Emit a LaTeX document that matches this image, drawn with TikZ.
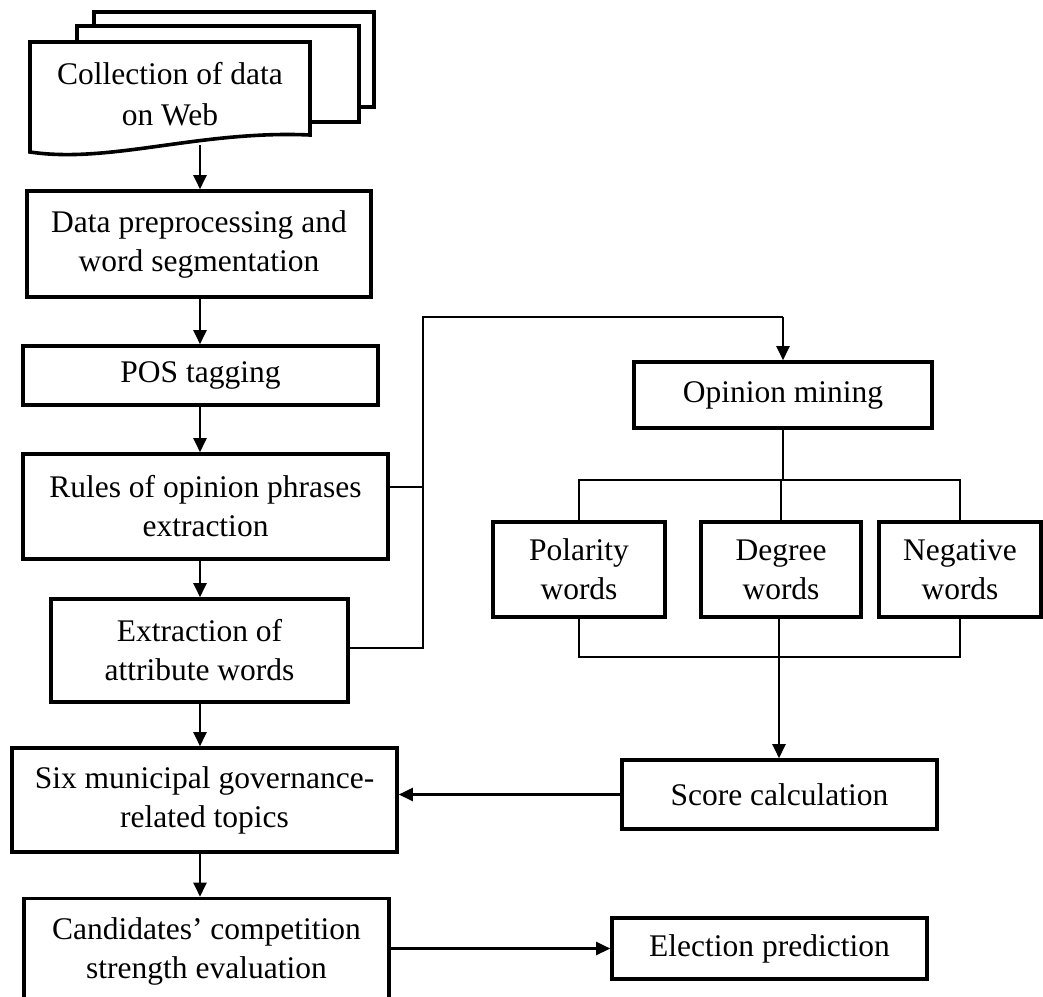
\documentclass[tikz,border=0pt]{standalone}
\usepackage{fontspec}
\setmainfont{Liberation Serif}
\usetikzlibrary{arrows.meta}
\begin{document}
\begin{tikzpicture}[x=1pt,y=-1pt,
  box/.style={draw,line width=3.6pt,inner sep=0pt,align=center,font=\fontsize{31.5}{39}\selectfont,fill=white},
  conn/.style={line width=2.2pt},
  arr/.style={conn,-{Triangle[length=14pt,width=13pt]}},
  page/.style={draw,line width=3.6pt,fill=white,line join=miter}]
\useasboundingbox (0,0) rectangle (1043,996);
\clip (0,0) rectangle (1043,996);
% document stack
\draw[page] (94,12) rectangle (374,107);
\draw[page] (77,26) rectangle (359,122);
\draw[page] (30,42) -- (310,42) -- (310,135) .. controls (200,130) and (110,164) .. (30,152) -- cycle;
\node[align=center,font=\fontsize{31.5}{41}\selectfont,inner sep=0pt] (doc) at (170,94) {Collection of data\\on Web};
\coordinate (docb) at (200,145);
% left column
\node[box,minimum width=344pt,minimum height=106pt] (data) at (199,244) {Data preprocessing and\\word segmentation};
\node[box,minimum width=355pt,minimum height=59pt] (pos) at (200.5,375.5) {POS tagging};
\node[box,minimum width=365pt,minimum height=105pt] (rules) at (205.5,506.5) {Rules of opinion phrases\\extraction};
\node[box,minimum width=297pt,minimum height=103pt] (extr) at (199.5,650.5) {Extraction of\\attribute words};
\node[box,minimum width=385pt,minimum height=104pt] (six) at (204.5,800) {Six municipal governance-\\related topics};
\node[box,minimum width=365pt,minimum height=105pt] (cand) at (206.5,951) {Candidates' competition\\strength evaluation};
% right column
\node[box,minimum width=298pt,minimum height=66pt] (op) at (783,395) {Opinion mining};
\node[box,minimum width=172pt,minimum height=95pt] (pol) at (579,569.5) {Polarity\\words};
\node[box,minimum width=160pt,minimum height=95pt] (deg) at (781,569.5) {Degree\\words};
\node[box,minimum width=162pt,minimum height=95pt] (neg) at (960,569.5) {Negative\\words};
\node[box,minimum width=315pt,minimum height=69pt] (score) at (779.5,794.5) {Score calculation};
\node[box,minimum width=315pt,minimum height=61pt] (elec) at (769.5,948.5) {Election prediction};
% left column arrows
\draw[arr] (docb) -- (docb |- data.north);
\draw[arr] (data.south -| 200,0) -- (pos.north -| 200,0);
\draw[arr] (pos.south -| 200,0) -- (rules.north -| 200,0);
\draw[arr] (rules.south -| 200,0) -- (extr.north -| 200,0);
\draw[arr] (extr.south -| 200,0) -- (six.north -| 200,0);
\draw[arr] (six.south -| 200,0) -- (cand.north -| 200,0);
% loop to opinion mining
\coordinate (jr) at (423,487);
\coordinate (je) at (423,648);
\coordinate (jt) at (423,317);
\draw[conn] (rules.east |- jr) -- (jr);
\draw[conn] (extr.east |- je) -- (je) -- (jt) -- (jt -| op.north);
\draw[arr] (jt -| op.north) -- (op.north);
% branches
\coordinate (bt) at (783,480);
\draw[conn] (op.south) -- (bt);
\draw[conn] (pol.north) -- (pol.north |- bt) -- (neg.north |- bt) -- (neg.north);
\draw[conn] (bt) -- (bt -| deg.north) -- (deg.north);
\coordinate (bb) at (779,657);
\draw[conn] (pol.south) -- (pol.south |- bb) -- (neg.south |- bb) -- (neg.south);
\draw[arr] (deg.south -| bb) -- (score.north -| bb);
% horizontal arrows
\draw[arr] (score.west) -- (score.west -| six.east);
\draw[arr] (cand.east |- elec.west) -- (elec.west);
\end{tikzpicture}
\end{document}
